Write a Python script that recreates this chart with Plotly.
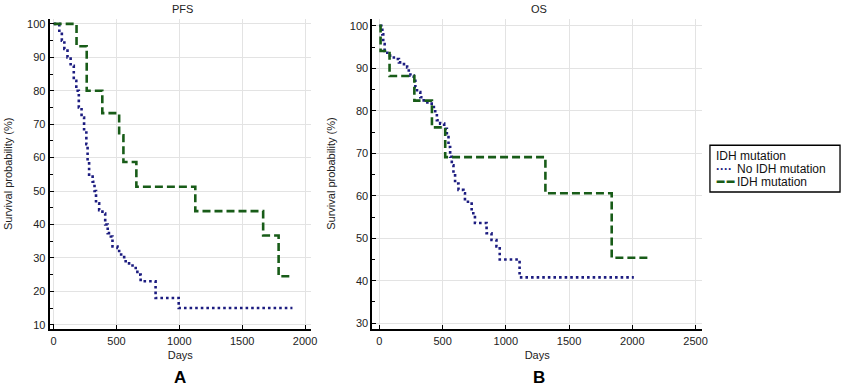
import plotly.graph_objects as go

# ---------------- data ----------------
pfs_no_days = [0, 20, 45, 65, 85, 110, 135, 160, 180, 200, 222, 242, 260, 270, 282, 310, 325, 337,
               362, 388, 410, 430, 455, 468, 508, 521, 561, 600, 653, 666, 692, 811, 995, 1900]
pfs_no_surv = [100, 100, 97.5, 95, 92.5, 90, 87.5, 83, 80, 75, 72, 68, 64, 59, 54.3, 52.8, 50, 46.3,
               44.3, 43.3, 40, 37.4, 36.4, 33.4, 33, 31, 29, 27.7, 26.5, 25, 23, 18, 15, 15]

pfs_idh_days = [0, 182, 263, 387, 521, 555, 658, 1127, 1667, 1790, 1895]
pfs_idh_surv = [100, 93.3, 80, 73.3, 66.7, 58.7, 51.3, 44, 36.7, 24.5, 24.5]

os_no_days = [0, 16, 24, 31, 42, 63, 115, 155, 181, 220, 233, 246, 272, 285, 298, 324, 351, 403,
              429, 442, 455, 481, 513, 534, 547, 560, 573, 586, 599, 626, 665, 677, 730, 756, 848,
              887, 926, 952, 1109, 2012]
os_no_surv = [100, 99.6, 98, 95.7, 94.1, 93, 92.2, 91.4, 91, 90.2, 89.1, 88.3, 87.1, 85.6, 84.4,
              83.2, 82, 81.7, 80.9, 79.3, 77.8, 77, 75.8, 73.8, 71.5, 69.2, 67.2, 65.3, 62.9, 61.4,
              60.6, 58.6, 55.9, 53.6, 51.2, 49.6, 48.1, 45, 40.8, 40.8]

os_idh_days = [0, 10, 81, 277, 416, 521, 1313, 1837, 2143]
os_idh_surv = [100, 94.1, 88.2, 82.4, 76.1, 69.1, 60.6, 45.4, 45.4]

series_names = ["No IDH mutation", "IDH mutation"]
legend_title = "IDH mutation"
panel_titles = ["PFS", "OS"]
panel_letters = ["A", "B"]
x_title = "Days"
y_title = "Survival probability (%)"

NAVY = "#1c1c80"
GREEN = "#185c18"
FONT = "Liberation Sans, Arial, sans-serif"

fig = go.Figure()

def add_pair(nd, ns, idd, ids, xa, ya):
    fig.add_trace(go.Scatter(x=nd, y=ns, mode="lines", line_shape="hv", name=series_names[0],
                             legendgroup="no", xaxis=xa, yaxis=ya,
                             line=dict(color=NAVY, width=2.6, dash="2.6px,3px")))
    fig.add_trace(go.Scatter(x=idd, y=ids, mode="lines", line_shape="hv", name=series_names[1],
                             legendgroup="idh", xaxis=xa, yaxis=ya,
                             line=dict(color=GREEN, width=2.6, dash="8px,4px")))

add_pair(pfs_no_days, pfs_no_surv, pfs_idh_days, pfs_idh_surv, "x", "y")
add_pair(os_no_days, os_no_surv, os_idh_days, os_idh_surv, "x2", "y2")

W, H = 850, 390
ydom = [60 / H, 372 / H]

axis_common = dict(showline=True, linecolor="black", linewidth=2, mirror=False,
                   showgrid=True, gridcolor="#e3e3e3", gridwidth=1, zeroline=False,
                   ticks="inside", ticklen=4, tickcolor="black", tickwidth=1,
                   tickfont=dict(family=FONT, size=11, color="#222"))

fig.update_layout(
    width=W, height=H,
    margin=dict(l=0, r=0, t=0, b=0),
    paper_bgcolor="white", plot_bgcolor="white",
    font=dict(family=FONT, size=11, color="#222"),
    showlegend=False,
    xaxis=dict(domain=[50 / W, 313 / W], range=[-32, 2046], dtick=500, anchor="y",
               title=dict(text=x_title, standoff=6, font=dict(size=11)), **axis_common),
    yaxis=dict(domain=ydom, range=[8.63, 101.5], dtick=10, anchor="x",
               minor=dict(ticks="inside", ticklen=3, dtick=5, tickcolor="black", showgrid=False),
               **axis_common),
    xaxis2=dict(domain=[375 / W, 707 / W], range=[-55, 2551], dtick=500, anchor="y2",
                title=dict(text=x_title, standoff=6, font=dict(size=11)), **axis_common),
    yaxis2=dict(domain=ydom, range=[28.57, 101.64], dtick=10, anchor="x2",
                minor=dict(ticks="inside", ticklen=3, dtick=5, tickcolor="black", showgrid=False),
                **axis_common),
)

def px(x):
    return x / W

def py(y):
    return (H - y) / H

annots = [
    dict(text=panel_titles[0], x=px(184), y=py(8)),
    dict(text=panel_titles[1], x=px(543), y=py(8)),
    dict(text=y_title, x=px(8), y=py(174), textangle=-90),
    dict(text=y_title, x=px(333), y=py(174), textangle=-90),
]
for a in annots:
    fig.add_annotation(xref="paper", yref="paper", showarrow=False, xanchor="center", yanchor="middle",
                       font=dict(size=11, color="#222"), **a)

for i, letter in enumerate(panel_letters):
    fig.add_annotation(xref="paper", yref="paper", showarrow=False, xanchor="center", yanchor="bottom",
                       x=px([181, 543][i]), y=0, text="<b>%s</b>" % letter,
                       font=dict(size=17, color="black"))

# ---- legend box drawn by hand (title + two entries) ----
fig.add_shape(type="rect", xref="paper", yref="paper", x0=px(715), x1=px(846), y0=py(192), y1=py(145),
              line=dict(color="black", width=1.3), fillcolor="white", layer="above")
fig.add_annotation(xref="paper", yref="paper", showarrow=False, xanchor="left", yanchor="middle",
                   x=px(719), y=py(155.5), text=legend_title, font=dict(size=12, color="#111"))
entry_y = [169, 182]
entry_col = [NAVY, GREEN]
entry_sym = ["<b>····</b>", "<b>━ ━</b>"]
for i in range(2):
    fig.add_annotation(xref="paper", yref="paper", showarrow=False, xanchor="left", yanchor="middle",
                       x=px(719), y=py(entry_y[i]), text=entry_sym[i],
                       font=dict(size=12, color=entry_col[i]))
    fig.add_annotation(xref="paper", yref="paper", showarrow=False, xanchor="left", yanchor="middle",
                       x=px(740), y=py(entry_y[i]), text=series_names[i],
                       font=dict(size=12, color="#111"))

fig.write_html("out.html", config={"displayModeBar": False},
               post_script="document.body.style.margin='0';")
